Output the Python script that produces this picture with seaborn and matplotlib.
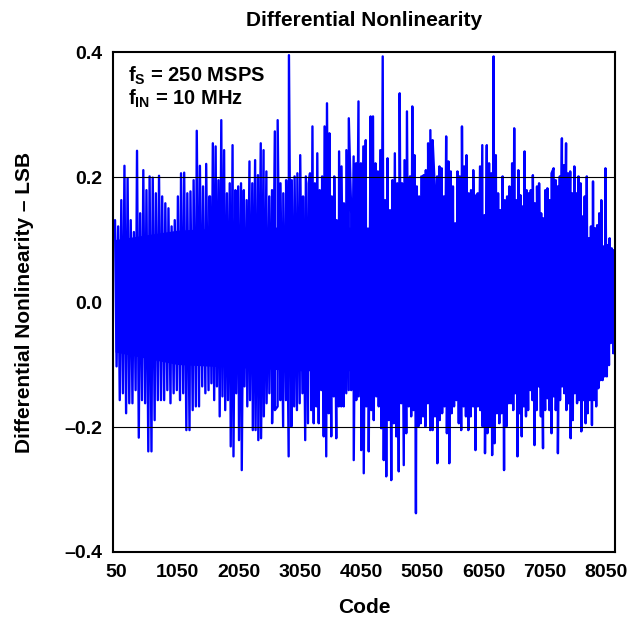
import numpy as np
import pandas as pd
import matplotlib
matplotlib.use("Agg")
import matplotlib.pyplot as plt
import seaborn as sns

# Lectura aproximada de la figura: picos altos / bajos por tramo de códigos
seg_first = [33, 1583, 3215, 4847, 6479]
seg_last = [1572, 3193, 4836, 6468, 8171]

top_1 = [0.131, 0.121, 0.163, 0.218, 0.198, 0.131, 0.112, 0.242, 0.142, 0.211, 0.179,
         0.201, 0.199, 0.174, 0.202, 0.169, 0.158, 0.150, 0.121, 0.131, 0.169, 0.206,
         0.207, 0.174, 0.177, 0.195, 0.274, 0.218, 0.185, 0.221, 0.169]
bot_1 = [-0.103, -0.157, -0.146, -0.178, -0.162, -0.162, -0.141, -0.217, -0.157, -0.162,
         -0.239, -0.239, -0.189, -0.157, -0.157, -0.157, -0.141, -0.162, -0.146, -0.141,
         -0.157, -0.146, -0.205, -0.205, -0.173, -0.167, -0.167, -0.135, -0.146, -0.141]

top_2 = [0.169, 0.254, 0.249, 0.195, 0.291, 0.243, 0.174, 0.190, 0.251, 0.179, 0.185,
         0.190, 0.179, 0.163, 0.225, 0.190, 0.227, 0.203, 0.254, 0.243, 0.209, 0.169,
         0.179, 0.273, 0.291, 0.190, 0.174, 0.195, 0.395, 0.195, 0.201, 0.206, 0.235,
         0.169, 0.201, 0.190]
bot_2 = [-0.130, -0.157, -0.135, -0.183, -0.151, -0.173, -0.157, -0.231, -0.247, -0.146,
         -0.221, -0.269, -0.135, -0.167, -0.157, -0.205, -0.205, -0.221, -0.218, -0.183,
         -0.162, -0.146, -0.194, -0.173, -0.167, -0.157, -0.199, -0.157, -0.247, -0.199,
         -0.167, -0.173, -0.162, -0.146, -0.221, -0.194]

top_3 = [0.206, 0.281, 0.190, 0.238, 0.179, 0.201, 0.281, 0.318, 0.270, 0.169, 0.201,
         0.131, 0.241, 0.217, 0.158, 0.243, 0.294, 0.142, 0.233, 0.222, 0.321, 0.222,
         0.249, 0.259, 0.115, 0.297, 0.297, 0.222, 0.209, 0.243, 0.393, 0.163, 0.230,
         0.147, 0.195, 0.238, 0.190, 0.334, 0.190, 0.227, 0.305, 0.190]
bot_3 = [-0.173, -0.194, -0.167, -0.194, -0.141, -0.215, -0.247, -0.178, -0.215, -0.151,
         -0.218, -0.167, -0.167, -0.167, -0.146, -0.141, -0.141, -0.253, -0.157, -0.151,
         -0.237, -0.274, -0.167, -0.239, -0.173, -0.189, -0.151, -0.167, -0.202, -0.253,
         -0.279, -0.189, -0.285, -0.194, -0.215, -0.271, -0.162, -0.261, -0.210, -0.167]

top_4 = [0.201, 0.313, 0.235, 0.185, 0.169, 0.201, 0.203, 0.211, 0.254, 0.275, 0.259,
         0.179, 0.201, 0.217, 0.214, 0.169, 0.265, 0.225, 0.209, 0.185, 0.126, 0.209,
         0.201, 0.281, 0.217, 0.235, 0.174, 0.179, 0.211, 0.169, 0.174, 0.217, 0.251,
         0.139, 0.251, 0.222, 0.206, 0.393, 0.235, 0.174, 0.147, 0.201, 0.163, 0.169, 0.185]
bot_4 = [-0.183, -0.173, -0.338, -0.199, -0.194, -0.183, -0.199, -0.162, -0.205, -0.205,
         -0.183, -0.258, -0.189, -0.178, -0.167, -0.210, -0.258, -0.178, -0.167, -0.157,
         -0.194, -0.205, -0.167, -0.183, -0.205, -0.183, -0.167, -0.237, -0.167, -0.173,
         -0.199, -0.242, -0.210, -0.199, -0.245, -0.226, -0.178, -0.194, -0.178, -0.269,
         -0.199, -0.162]

top_5 = [0.147, 0.222, 0.278, 0.163, 0.211, 0.171, 0.153, 0.241, 0.179, 0.174, 0.179,
         0.203, 0.158, 0.185, 0.190, 0.142, 0.134, 0.179, 0.182, 0.163, 0.206, 0.214,
         0.195, 0.185, 0.201, 0.262, 0.219, 0.254, 0.206, 0.209, 0.174, 0.217, 0.174,
         0.201, 0.190, 0.137, 0.169, 0.201, 0.102, 0.121, 0.193, 0.118, 0.123, 0.142,
         0.163, 0.089, 0.214, 0.091, 0.102, 0.086, 0.083]
bot_5 = [-0.162, -0.173, -0.146, -0.247, -0.178, -0.215, -0.167, -0.183, -0.173, -0.141,
         -0.157, -0.229, -0.173, -0.135, -0.183, -0.234, -0.173, -0.154, -0.173, -0.210,
         -0.151, -0.173, -0.242, -0.157, -0.135, -0.146, -0.173, -0.162, -0.218, -0.189,
         -0.146, -0.162, -0.157, -0.207, -0.157, -0.194, -0.178, -0.157, -0.197, -0.157,
         -0.167, -0.138, -0.125, -0.125, -0.119, -0.119, -0.101, -0.061, -0.082]

# Banda central casi sólida
core_codes = [33, 1050, 2050, 3050, 4050, 5050, 6050, 7050, 8171]
core_hi = [0.10, 0.115, 0.12, 0.12, 0.12, 0.12, 0.115, 0.105, 0.075]
core_lo = [-0.08, -0.10, -0.105, -0.11, -0.11, -0.11, -0.105, -0.095, -0.065]

x_ticks = [50, 1050, 2050, 3050, 4050, 5050, 6050, 7050, 8050]
y_ticks = [-0.4, -0.2, 0.0, 0.2, 0.4]
y_labels = ["\u20130.4", "\u20130.2", "0.0", "0.2", "0.4"]
grid_levels = [-0.2, 0.2]

sns.set_theme(style="white")
plt.rcParams["font.family"] = ["Liberation Sans", "DejaVu Sans"]
plt.rcParams["font.weight"] = "bold"
plt.rcParams["text.color"] = "black"
plt.rcParams["axes.labelcolor"] = "black"
plt.rcParams["xtick.color"] = "black"
plt.rcParams["ytick.color"] = "black"
plt.rcParams["mathtext.fontset"] = "custom"
plt.rcParams["mathtext.rm"] = "Liberation Sans:bold"
plt.rcParams["mathtext.it"] = "Liberation Sans:bold"
plt.rcParams["mathtext.bf"] = "Liberation Sans:bold"

# Armar la serie: picos altos y bajos intercalados dentro de cada tramo
codes, values = [], []
tops_all = [top_1, top_2, top_3, top_4, top_5]
bots_all = [bot_1, bot_2, bot_3, bot_4, bot_5]
for first, last, tops, bots in zip(seg_first, seg_last, tops_all, bots_all):
    step = (last - first) / (len(tops) - 1)
    codes.extend(np.linspace(first, last, len(tops)))
    values.extend(tops)
    codes.extend(np.linspace(first + step / 2, last - step / 4, len(bots)))
    values.extend(bots)
df = pd.DataFrame({"code": codes, "dnl": values}).sort_values("code")

fig = plt.figure(figsize=(6.42, 6.18), dpi=100)
ax = fig.add_axes([0.176, 0.1068, 0.782, 0.809])

ax.fill_between(core_codes, core_lo, core_hi, color="#0000FF", lw=0, zorder=1)
sns.lineplot(data=df, x="code", y="dnl", ax=ax, color="#0000FF", lw=1.7,
             estimator=None, sort=True, zorder=2)
for lvl in grid_levels:
    ax.axhline(lvl, color="black", lw=0.8, zorder=3)

ax.set_xlim(0, 8192)
ax.set_ylim(-0.4, 0.4)
ax.set_xticks(x_ticks)
ax.set_xticklabels([str(t) for t in x_ticks])
ax.set_yticks(y_ticks)
ax.set_yticklabels(y_labels)
ax.tick_params(axis="both", length=0, labelsize=14)
ax.tick_params(axis="x", pad=9)
ax.tick_params(axis="y", pad=8)
for lab in ax.get_xticklabels() + ax.get_yticklabels():
    lab.set_fontweight("bold")

for sp in ax.spines.values():
    sp.set_color("black")
    sp.set_linewidth(1.5)

ax.set_title("Differential Nonlinearity", fontsize=15, fontweight="bold", pad=19)
ax.set_xlabel("Code", fontsize=15, fontweight="bold")
ax.set_ylabel("Differential Nonlinearity \u2013 LSB", fontsize=15, fontweight="bold")
ax.xaxis.set_label_coords(0.5, -0.092)
ax.yaxis.set_label_coords(-0.157, 0.5)

ax.text(0.03, 0.94, r"$\mathbf{f_{S}}$ = 250 MSPS", transform=ax.transAxes,
        fontsize=14.5, fontweight="bold", va="baseline", ha="left")
ax.text(0.03, 0.894, r"$\mathbf{f_{IN}}$ = 10 MHz", transform=ax.transAxes,
        fontsize=14.5, fontweight="bold", va="baseline", ha="left")

fig.savefig("out.png", dpi=100)
